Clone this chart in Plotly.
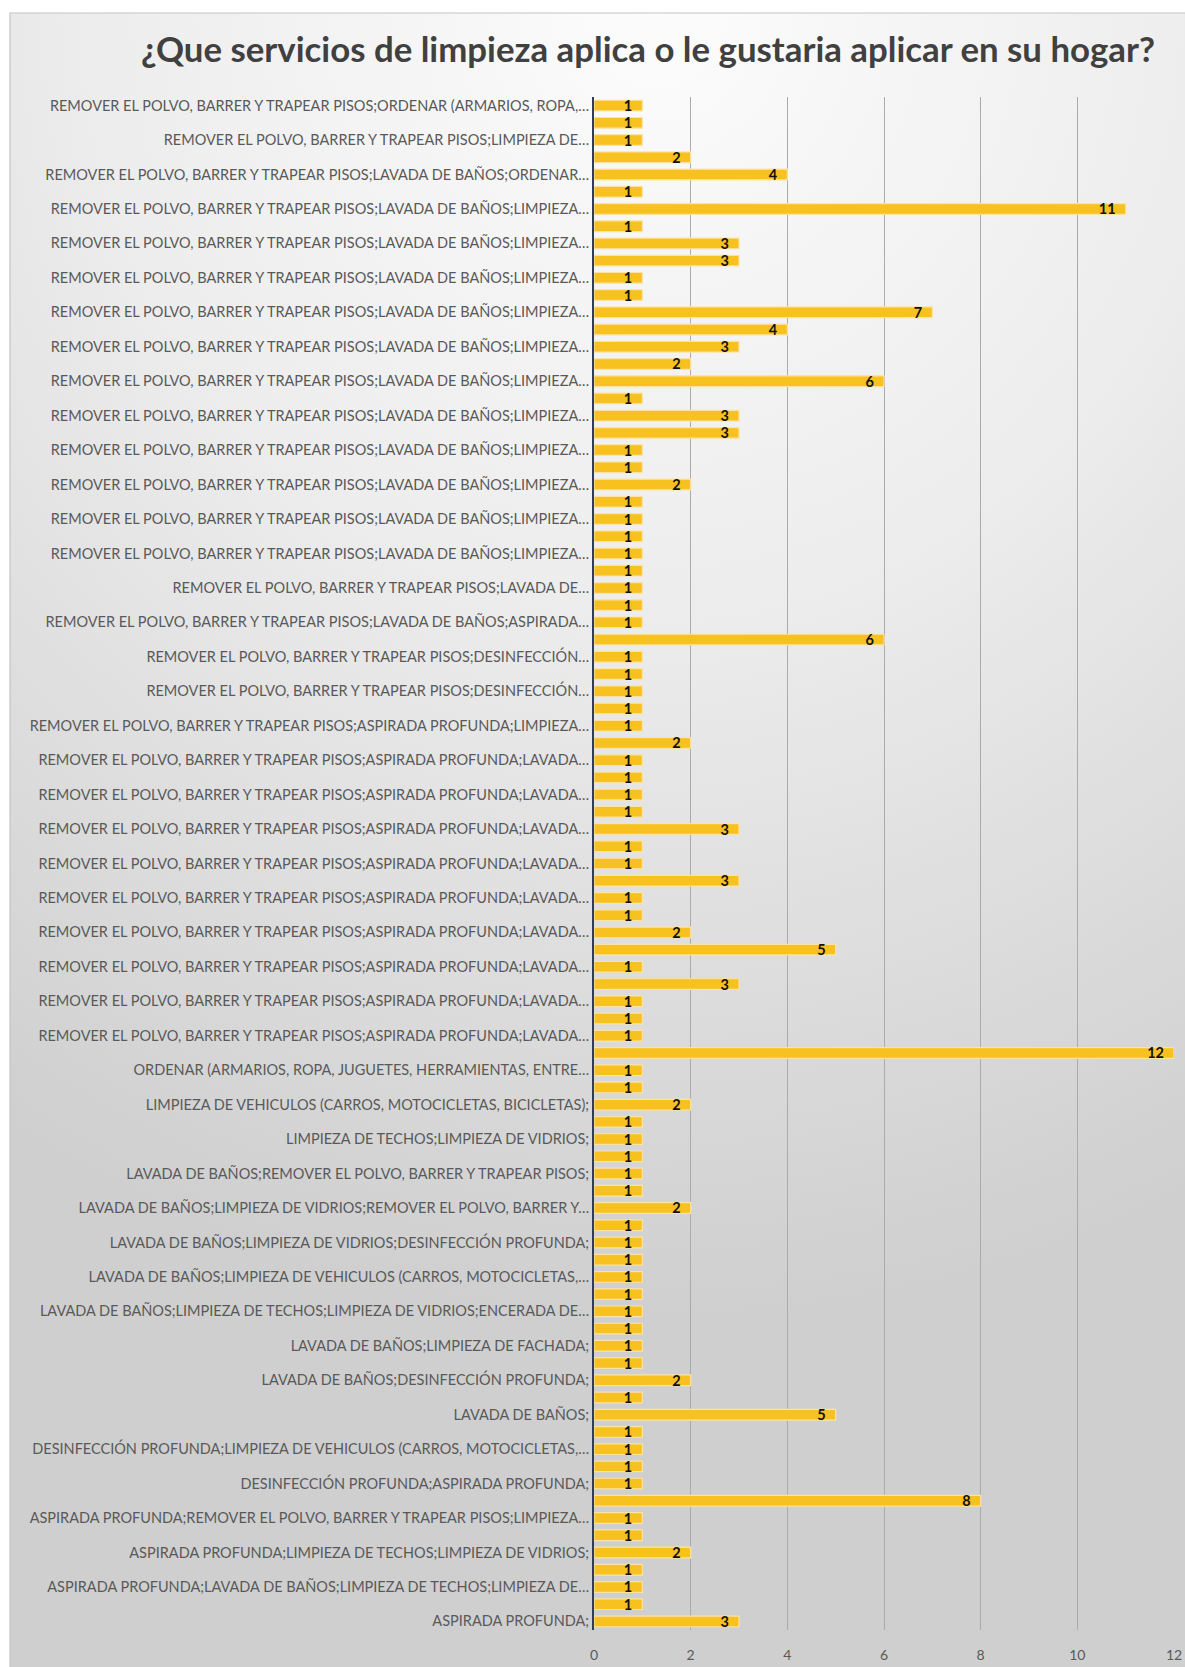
import base64
import plotly.graph_objects as go

# ---- data (top bar first) ----
values = [1, 1, 1, 2, 4, 1, 11, 1, 3, 3,
          1, 1, 7, 4, 3, 2, 6, 1, 3, 3,
          1, 1, 2, 1, 1, 1, 1, 1, 1, 1,
          1, 6, 1, 1, 1, 1, 1, 2, 1, 1,
          1, 1, 3, 1, 1, 3, 1, 1, 2, 5,
          1, 3, 1, 1, 1, 12, 1, 1, 2, 1,
          1, 1, 1, 1, 2, 1, 1, 1, 1, 1,
          1, 1, 1, 1, 2, 1, 5, 1, 1, 1,
          1, 8, 1, 1, 2, 1, 1, 1, 3]

RLB = "REMOVER EL POLVO, BARRER Y TRAPEAR PISOS;LAVADA DE BAÑOS;LIMPIEZA…"
RAL = "REMOVER EL POLVO, BARRER Y TRAPEAR PISOS;ASPIRADA PROFUNDA;LAVADA…"
# labels shown on every other bar (bars 1, 3, 5, ... from the top)
shown_labels = [
    "REMOVER EL POLVO, BARRER Y TRAPEAR PISOS;ORDENAR (ARMARIOS, ROPA,…",
    "REMOVER EL POLVO, BARRER Y TRAPEAR PISOS;LIMPIEZA DE…",
    "REMOVER EL POLVO, BARRER Y TRAPEAR PISOS;LAVADA DE BAÑOS;ORDENAR…",
    RLB, RLB, RLB, RLB, RLB, RLB, RLB, RLB, RLB, RLB, RLB,
    "REMOVER EL POLVO, BARRER Y TRAPEAR PISOS;LAVADA DE…",
    "REMOVER EL POLVO, BARRER Y TRAPEAR PISOS;LAVADA DE BAÑOS;ASPIRADA…",
    "REMOVER EL POLVO, BARRER Y TRAPEAR PISOS;DESINFECCIÓN…",
    "REMOVER EL POLVO, BARRER Y TRAPEAR PISOS;DESINFECCIÓN…",
    "REMOVER EL POLVO, BARRER Y TRAPEAR PISOS;ASPIRADA PROFUNDA;LIMPIEZA…",
    RAL, RAL, RAL, RAL, RAL, RAL, RAL, RAL, RAL,
    "ORDENAR (ARMARIOS, ROPA, JUGUETES, HERRAMIENTAS, ENTRE…",
    "LIMPIEZA DE VEHICULOS (CARROS, MOTOCICLETAS, BICICLETAS);",
    "LIMPIEZA DE TECHOS;LIMPIEZA DE VIDRIOS;",
    "LAVADA DE BAÑOS;REMOVER EL POLVO, BARRER Y TRAPEAR PISOS;",
    "LAVADA DE BAÑOS;LIMPIEZA DE VIDRIOS;REMOVER EL POLVO, BARRER Y…",
    "LAVADA DE BAÑOS;LIMPIEZA DE VIDRIOS;DESINFECCIÓN PROFUNDA;",
    "LAVADA DE BAÑOS;LIMPIEZA DE VEHICULOS (CARROS, MOTOCICLETAS,…",
    "LAVADA DE BAÑOS;LIMPIEZA DE TECHOS;LIMPIEZA DE VIDRIOS;ENCERADA DE…",
    "LAVADA DE BAÑOS;LIMPIEZA DE FACHADA;",
    "LAVADA DE BAÑOS;DESINFECCIÓN PROFUNDA;",
    "LAVADA DE BAÑOS;",
    "DESINFECCIÓN PROFUNDA;LIMPIEZA DE VEHICULOS (CARROS, MOTOCICLETAS,…",
    "DESINFECCIÓN PROFUNDA;ASPIRADA PROFUNDA;",
    "ASPIRADA PROFUNDA;REMOVER EL POLVO, BARRER Y TRAPEAR PISOS;LIMPIEZA…",
    "ASPIRADA PROFUNDA;LIMPIEZA DE TECHOS;LIMPIEZA DE VIDRIOS;",
    "ASPIRADA PROFUNDA;LAVADA DE BAÑOS;LIMPIEZA DE TECHOS;LIMPIEZA DE…",
    "ASPIRADA PROFUNDA;",
]
x_ticks = [0, 2, 4, 6, 8, 10, 12]
title = "¿Que servicios de limpieza aplica o le gustaria aplicar en su hogar?"

positions = list(range(len(values)))
label_positions = positions[::2]

# ---- layout geometry ----
W, H = 1185, 1667
L, R, T, B = 594, 11, 97, 37
pw, ph = W - L - R, H - T - B

svg = (
    '<svg xmlns="http://www.w3.org/2000/svg" width="1185" height="1667" '
    'preserveAspectRatio="none" viewBox="0 0 1185 1667">'
    '<defs><radialGradient id="g" cx="0.55" cy="0.0" r="1.05" '
    'gradientTransform="translate(0.55 0) scale(1 0.75) translate(-0.55 0)">'
    '<stop offset="0" stop-color="#fcfcfc"/>'
    '<stop offset="0.45" stop-color="#ededed"/>'
    '<stop offset="1" stop-color="#cfcfcf"/>'
    '</radialGradient></defs>'
    '<rect x="0" y="0" width="1185" height="1667" fill="url(#g)"/></svg>'
)
src = "data:image/svg+xml;base64," + base64.b64encode(svg.encode()).decode()

bx0, by0 = 10, 13  # chart border top-left (px)

fig = go.Figure(
    go.Bar(
        x=values,
        y=positions,
        orientation="h",
        width=0.62,
        marker=dict(color="#F7C120", line=dict(color="#FBE3A0", width=1.2)),
        texttemplate="%{x}\u00a0\u00a0",
        textposition="inside",
        insidetextanchor="end",
        textangle=0,
        constraintext="none",
        textfont=dict(family="Lato", size=14.5, color="#111111", weight="bold"),
        hoverinfo="x+y",
    )
)

fig.update_layout(
    width=W,
    height=H,
    margin=dict(l=L, r=R, t=T, b=B, autoexpand=False),
    paper_bgcolor="white",
    plot_bgcolor="rgba(0,0,0,0)",
    showlegend=False,
    title=dict(
        text=title,
        font=dict(family="Lato", size=34.8, color="#404040", weight="bold"),
        x=648 / W,
        xanchor="center",
        xref="container",
        y=1 - 50 / H,
        yanchor="middle",
        yref="container",
    ),
    font=dict(family="Lato", color="#595959"),
    images=[
        dict(
            source=src,
            xref="paper",
            yref="paper",
            x=(bx0 - L) / pw,
            y=1 + (T - by0) / ph,
            sizex=(W - bx0) / pw,
            sizey=(H - by0) / ph,
            sizing="stretch",
            xanchor="left",
            yanchor="top",
            layer="below",
        )
    ],
    shapes=[
        dict(
            type="rect",
            xref="paper",
            yref="paper",
            x0=(bx0 - L) / pw,
            x1=(W + 20 - L) / pw,
            y0=-(B + 20) / ph,
            y1=1 + (T - by0) / ph,
            line=dict(color="#c4c4c4", width=1.2),
            fillcolor="rgba(0,0,0,0)",
            layer="below",
        )
    ],
    xaxis=dict(
        range=[0, 12],
        tickvals=x_ticks,
        showgrid=True,
        gridcolor="#ababab",
        gridwidth=1,
        zeroline=False,
        showline=False,
        ticks="",
        ticklabelstandoff=15,
        tickfont=dict(family="Lato", size=14, color="#595959"),
        fixedrange=True,
    ),
    yaxis=dict(
        range=[len(values) - 0.5, -0.5],
        tickvals=label_positions,
        ticktext=shown_labels,
        showgrid=False,
        zeroline=False,
        showline=True,
        linecolor="#343a5e",
        linewidth=2,
        ticks="",
        ticklabelstandoff=0,
        tickfont=dict(family="Lato", size=14.5, color="#595959"),
        automargin=False,
    ),
)

fig.write_html("out.html")
